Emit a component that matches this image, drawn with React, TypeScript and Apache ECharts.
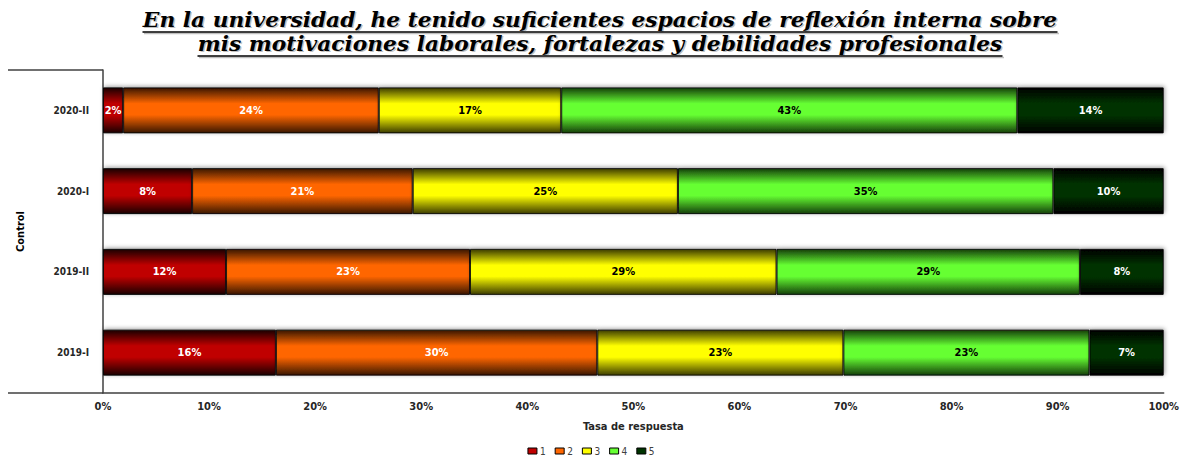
import React, { useEffect, useRef } from "react";
import * as echarts from "echarts";

// Survey periods, bottom to top
const periods = ["2019-I", "2019-II", "2020-I", "2020-II"];

// Share of answers (%) for each rating, per period (same order as periods)
const rating1 = [16.3, 11.6, 8.4, 1.9];
const rating2 = [30.3, 23.0, 20.8, 24.1];
const rating3 = [23.2, 28.9, 25.0, 17.2];
const rating4 = [23.2, 28.6, 35.4, 43.0];
const rating5 = [7.0, 7.9, 10.4, 13.8];

const ratingNames = ["1", "2", "3", "4", "5"];
const xTicks = [0, 10, 20, 30, 40, 50, 60, 70, 80, 90, 100];

const titleLines = [
  "En la universidad, he tenido suficientes espacios de reflexión interna sobre",
  "mis motivaciones laborales, fortalezas y debilidades profesionales",
];

// base colour, dark edge colour, label colour
const palette = [
  { base: "#C00000", edge: "#1a0000", label: "#ffffff" },
  { base: "#FF6600", edge: "#3a1700", label: "#ffffff" },
  { base: "#FFFF00", edge: "#3d3d00", label: "#000000" },
  { base: "#66FF33", edge: "#15400a", label: "#000000" },
  { base: "#003300", edge: "#000000", label: "#ffffff" },
];

const condensed = "'DejaVu Sans Condensed', 'Liberation Sans Narrow', 'Roboto Condensed', sans-serif";
const titleFont = "italic bold 19.5px 'DejaVu Serif'";
// heading is stretched horizontally so the first line spans this many pixels
const titleFirstLineWidth = 915;

function measure(text: string, font: string): number {
  const ctx = document.createElement("canvas").getContext("2d");
  if (!ctx) return text.length * 11;
  ctx.font = font;
  return ctx.measureText(text).width;
}

export default function App() {
  const ref = useRef<HTMLDivElement>(null);

  useEffect(() => {
    if (!ref.current) return;
    const chart = echarts.init(ref.current, undefined, { renderer: "svg" });
    const seriesValues = [rating1, rating2, rating3, rating4, rating5];

    const gridLeft = 103;
    const gridTop = 70;
    const gridBottomY = 393;
    const centerX = 600;

    const stretch = titleFirstLineWidth / measure(titleLines[0], titleFont);
    const titleGraphics: any[] = [];
    const lineYs = [20, 44];
    titleLines.forEach((t, i) => {
      const w = measure(t, titleFont) * stretch;
      const uy = lineYs[i] + 12;
      // soft grey copy behind the heading, then the heading itself
      titleGraphics.push({
        type: "text",
        x: centerX + 1.5,
        y: lineYs[i] + 1.5,
        scaleX: stretch,
        silent: true,
        style: { text: t, font: titleFont, fill: "rgba(0,0,0,0.25)", textAlign: "center", textVerticalAlign: "middle" },
      });
      titleGraphics.push({
        type: "line",
        shape: { x1: centerX - w / 2 + 1.5, y1: uy + 1.5, x2: centerX + w / 2 + 1.5, y2: uy + 1.5 },
        style: { stroke: "rgba(0,0,0,0.25)", lineWidth: 1.5 },
      });
      titleGraphics.push({
        type: "text",
        x: centerX,
        y: lineYs[i],
        scaleX: stretch,
        style: { text: t, font: titleFont, fill: "#000", textAlign: "center", textVerticalAlign: "middle" },
      });
      titleGraphics.push({
        type: "line",
        shape: { x1: centerX - w / 2, y1: uy, x2: centerX + w / 2, y2: uy },
        style: { stroke: "#000", lineWidth: 1.5 },
      });
    });

    chart.setOption({
      animation: false,
      backgroundColor: "#ffffff",
      grid: { left: gridLeft, right: 17, top: gridTop, bottom: 459 - gridBottomY },
      legend: {
        top: 446,
        padding: 0,
        left: "center",
        icon: "rect",
        itemWidth: 9,
        itemHeight: 6,
        itemGap: 9,
        textStyle: { fontFamily: condensed, fontSize: 10, color: "#404040", padding: [0, 0, 0, -2] },
        data: ratingNames.map((n, i) => ({
          name: n,
          itemStyle: { color: palette[i].base, borderColor: "#000", borderWidth: 1 },
        })),
      },
      xAxis: {
        type: "value",
        min: 0,
        max: 100,
        interval: 10,
        name: "Tasa de respuesta",
        nameLocation: "middle",
        nameGap: 28,
        nameTextStyle: { fontFamily: condensed, fontWeight: "bold", fontSize: 11, color: "#262626" },
        axisLine: { show: true, lineStyle: { color: "#404040", width: 1.5 } },
        axisTick: { show: false },
        splitLine: { show: false },
        axisLabel: {
          margin: 8,
          fontFamily: condensed,
          fontWeight: "bold",
          fontSize: 11,
          color: "#262626",
          customValues: xTicks,
          formatter: (v: number) => `${v}%`,
        },
      },
      yAxis: {
        type: "category",
        data: periods,
        name: "Control",
        nameLocation: "middle",
        nameGap: 77,
        nameRotate: 90,
        nameTextStyle: { fontFamily: condensed, fontWeight: "bold", fontSize: 11, color: "#000" },
        axisLine: { show: true, lineStyle: { color: "#404040", width: 1.5 } },
        axisTick: { show: false },
        axisLabel: {
          margin: 14,
          fontFamily: condensed,
          fontWeight: "bold",
          fontSize: 10,
          color: "#262626",
        },
      },
      series: seriesValues.map((vals, i) => ({
        name: ratingNames[i],
        type: "bar",
        stack: "total",
        barWidth: 46,
        data: vals,
        itemStyle: {
          color: new echarts.graphic.LinearGradient(0, 0, 0, 1, [
            { offset: 0, color: palette[i].edge },
            { offset: 0.35, color: palette[i].base },
            { offset: 0.6, color: palette[i].base },
            { offset: 1, color: palette[i].edge },
          ]),
          borderColor: "rgba(0,0,0,0.85)",
          borderWidth: 1,
          shadowColor: "rgba(0,0,0,0.4)",
          shadowBlur: 4,
          shadowOffsetX: 1,
          shadowOffsetY: -1,
        },
        label: {
          show: true,
          position: "inside",
          fontFamily: condensed,
          fontWeight: "bold",
          fontSize: 11,
          color: palette[i].label,
          formatter: (p: any) => `${Math.round(p.value)}%`,
        },
      })),
      graphic: [
        ...titleGraphics,
        {
          type: "line",
          shape: { x1: 8, y1: gridTop, x2: gridLeft, y2: gridTop },
          style: { stroke: "#404040", lineWidth: 1.5 },
        },
        {
          type: "line",
          shape: { x1: 8, y1: gridBottomY, x2: gridLeft, y2: gridBottomY },
          style: { stroke: "#404040", lineWidth: 1.5 },
        },
      ],
    });

    return () => chart.dispose();
  }, []);

  return (
    <div
      ref={ref}
      style={{ position: "fixed", left: 0, top: 0, width: 1182, height: 459, background: "#fff" }}
    />
  );
}
